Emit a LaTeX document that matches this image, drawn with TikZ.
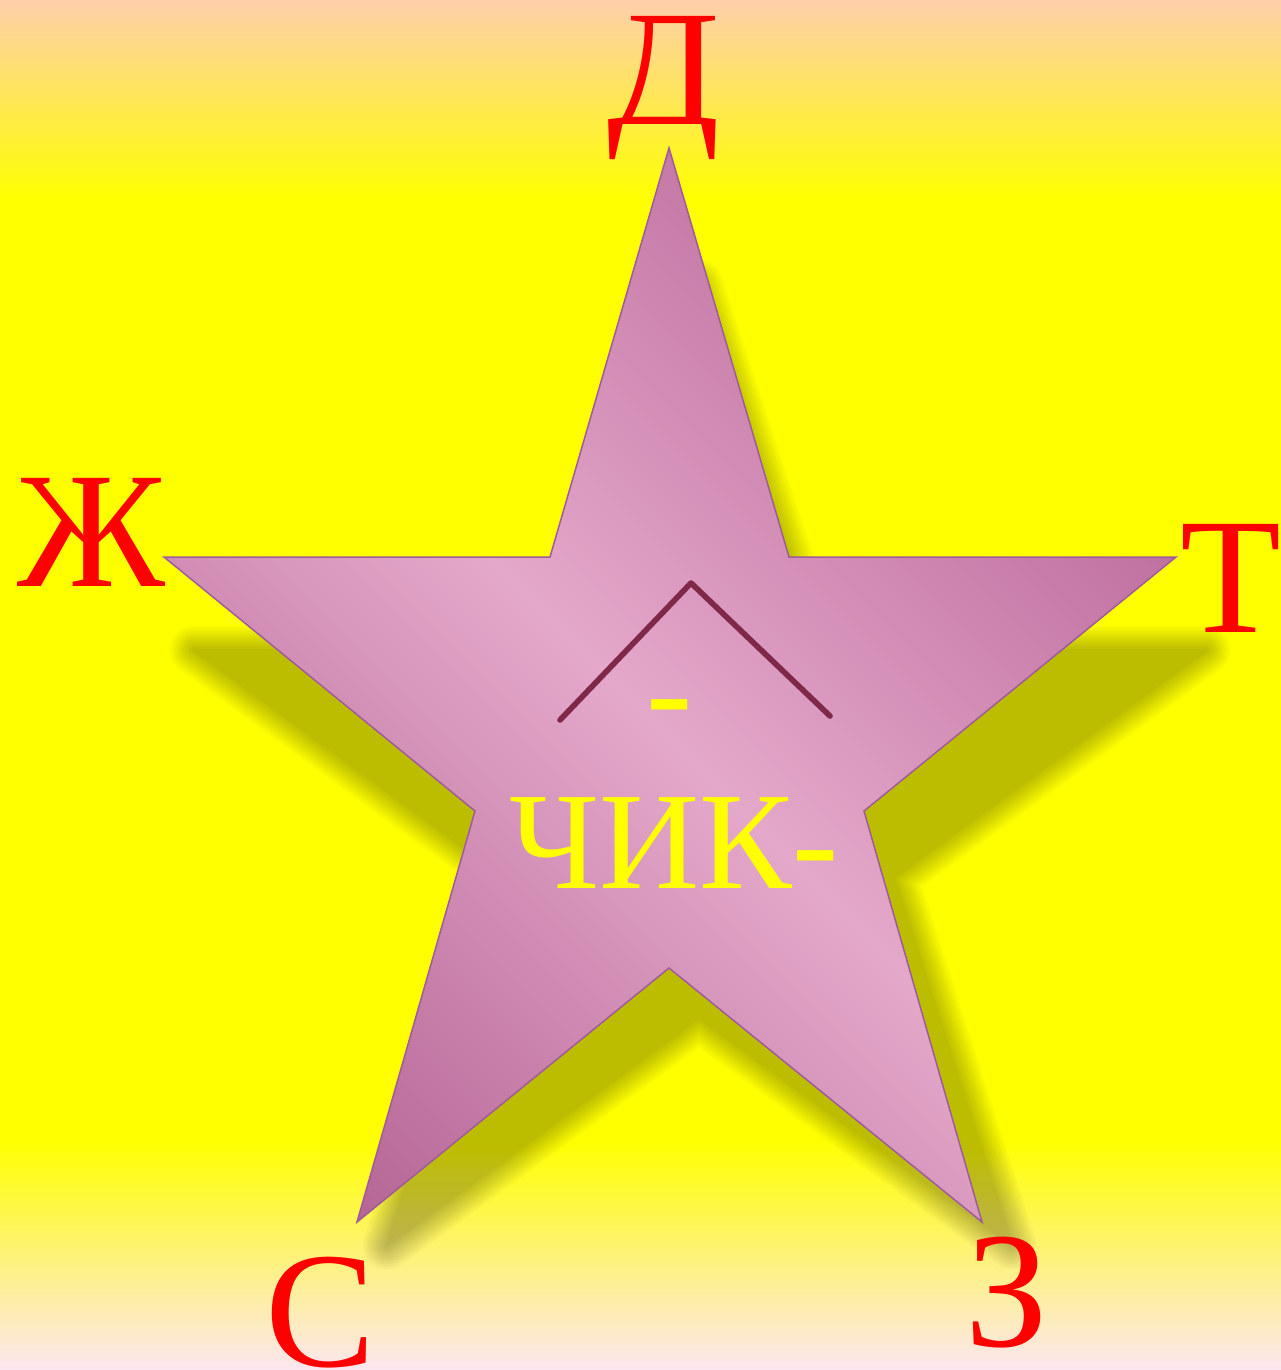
\documentclass[tikz,border=0pt]{standalone}
\usepackage{fontspec}
\setmainfont{Liberation Serif}
\usepackage{xcolor}
\definecolor{bgyellow}{HTML}{FFFF00}
\definecolor{bgpeach}{HTML}{FECFAB}
\definecolor{bgpink}{HTML}{FCE6F0}
\definecolor{letterred}{HTML}{FF0000}
\definecolor{starlight}{HTML}{E4A8CA}
\definecolor{stardark}{HTML}{BE6E9E}
\definecolor{stardarkest}{HTML}{B46494}
\definecolor{starline}{HTML}{A05A9E}
\definecolor{caretred}{HTML}{802848}
\pgfdeclareverticalshading{starshade}{100bp}{color(0bp)=(stardarkest); color(30bp)=(stardarkest); color(48bp)=(starlight); color(64bp)=(stardark); color(100bp)=(stardarkest)}
\newcommand{\starpath}{(669,148) -- (789,557) -- (1176,557) -- (864,811) -- (982,1222) -- (669,968) -- (357,1222) -- (475,811) -- (164,557) -- (550,557) -- cycle}

\begin{document}
\begin{tikzpicture}[x=0.02cm, y=-0.02cm,
    letter/.style={text=letterred, inner sep=0pt, anchor=base, font=\fontsize{94pt}{94pt}\selectfont},
    midtext/.style={text=bgyellow, inner sep=0pt, anchor=base, font=\fontsize{79pt}{79pt}\selectfont}]
    \useasboundingbox (0,0) rectangle (1281,1370);

    % Background
    \fill[bgyellow] (0,0) rectangle (1281,1370);
    \shade[top color=bgpeach, bottom color=bgyellow] (0,0) rectangle (1281,200);
    \shade[top color=bgyellow, bottom color=bgpink] (0,1140) rectangle (1281,1370);

    % Soft shadow of the star
    \begin{scope}[shift={(30,151.5)}, yscale=0.895]
        \foreach \w in {48,43,...,3} {
            \begin{scope}[transparency group, opacity=0.028]
                \filldraw[black, line width=\w*0.569pt, line join=round] \starpath;
            \end{scope}
        }
    \end{scope}

    % Star body
    \begin{scope}
        \clip \starpath;
        \shade[shading=starshade, shading angle=-45] (680,660) circle (800);
    \end{scope}
    \draw[starline, line width=0.85pt] \starpath;

    % Caret
    \draw[caretred, line width=3.2pt, line cap=round, line join=round] (560,720) -- (691,583) -- (830,716);

    % Centre text
    \node[midtext] (dash) at (670,737) {-};
    \node[midtext] (chik) at (674,888) {ЧИК-};

    % Letters round the star
    \node[letter] (de) at (664,124) {Д};
    \node[letter] (zhe) at (91,586) {Ж};
    \node[letter] (te) at (1231,632) {Т};
    \node[letter] (es) at (321,1366) {С};
    \node[letter] (ze) at (1007,1346) {З};
\end{tikzpicture}
\end{document}
